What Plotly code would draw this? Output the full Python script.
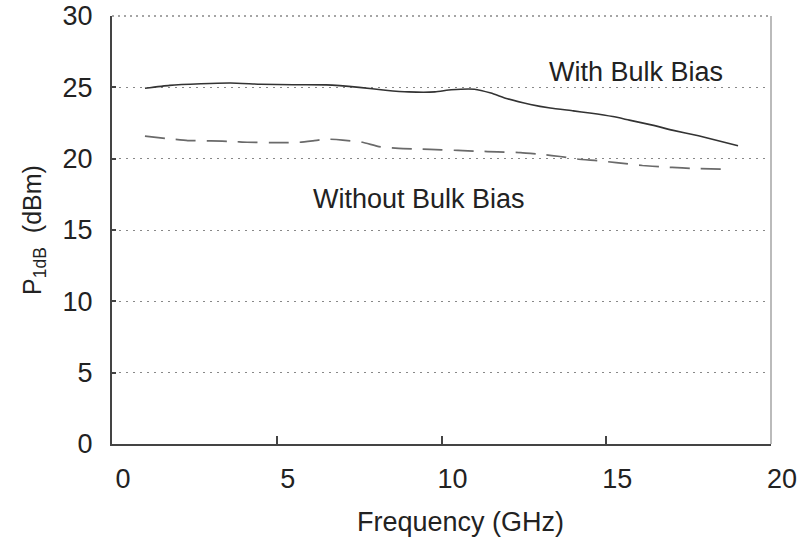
import plotly.graph_objects as go

# Data
freq_with = [1.0, 1.75, 2.7, 3.6, 4.5, 5.5, 6.5, 7.5, 8.3, 9.0, 9.8, 10.3, 11.0, 11.5,
             12.0, 12.7, 13.3, 14.0, 14.5, 15.2, 15.7, 16.4, 17.0, 17.8, 18.4, 19.0]
p1db_with = [24.93, 25.14, 25.25, 25.3, 25.22, 25.18, 25.17, 25.0, 24.8, 24.68, 24.68,
             24.83, 24.87, 24.6, 24.2, 23.8, 23.55, 23.35, 23.2, 22.95, 22.7, 22.35,
             22.0, 21.6, 21.25, 20.9]

freq_without = [1.0, 1.7, 2.3, 3.0, 3.7, 4.1, 5.0, 5.7, 6.1, 6.5, 7.0, 7.6, 8.1, 8.7,
                9.3, 10.0, 10.5, 11.1, 11.7, 12.4, 13.1, 13.6, 14.1, 14.8, 15.3, 16.1,
                16.7, 17.3, 17.8, 18.5]
p1db_without = [21.58, 21.4, 21.27, 21.25, 21.2, 21.15, 21.12, 21.15, 21.25, 21.37, 21.3,
                21.15, 20.85, 20.72, 20.68, 20.62, 20.58, 20.52, 20.48, 20.42, 20.28,
                20.15, 19.98, 19.85, 19.72, 19.52, 19.42, 19.35, 19.3, 19.27]

x_ticks = [0, 5, 10, 15, 20]
y_ticks = [0, 5, 10, 15, 20, 25, 30]

label_with = "With Bulk Bias"
label_without = "Without Bulk Bias"
x_title = "Frequency (GHz)"
y_title = "P<sub>1dB</sub>&nbsp;&nbsp;(dBm)"

FONT = "Liberation Sans, Arial, sans-serif"
TXT = "#222222"
FS = 27

fig = go.Figure()
fig.add_trace(go.Scatter(x=freq_with, y=p1db_with, mode="lines",
                         line=dict(color="#333333", width=1.6, shape="spline", smoothing=0.5),
                         showlegend=False, hoverinfo="skip"))
fig.add_trace(go.Scatter(x=freq_without, y=p1db_without, mode="lines",
                         line=dict(color="#6a6a6a", width=1.7, dash="20px,11px",
                                   shape="spline", smoothing=0.5),
                         showlegend=False, hoverinfo="skip"))

fig.add_annotation(x=15.9, y=26.1, text=label_with, showarrow=False,
                   font=dict(family=FONT, size=FS, color=TXT))
fig.add_annotation(x=9.32, y=17.17, text=label_without, showarrow=False,
                   font=dict(family=FONT, size=FS, color=TXT))
fig.add_annotation(x=0.529, y=-0.182, xref="paper", yref="paper", text=x_title,
                   showarrow=False, xanchor="center", yanchor="middle",
                   font=dict(family=FONT, size=FS, color=TXT))

# right frame line and dotted top frame line
fig.add_shape(type="line", xref="x domain", yref="y domain", x0=1, x1=1, y0=0, y1=1,
              line=dict(color="#bbbbbb", width=2))
fig.add_shape(type="line", xref="x domain", yref="y domain", x0=0, x1=1, y0=1, y1=1,
              line=dict(color="#888888", width=1.5, dash="2px,4px"))

fig.update_layout(
    width=798, height=540, autosize=False,
    margin=dict(l=112, r=27, t=16, b=96, autoexpand=False),
    paper_bgcolor="white", plot_bgcolor="white",
    font=dict(family=FONT, size=FS, color=TXT),
    xaxis=dict(range=[0, 20], tickvals=x_ticks, ticks="inside", ticklen=8, tickwidth=1.5,
               tickcolor="#444444", showline=True, linecolor="#444444", linewidth=2,
               showgrid=False, zeroline=False, ticklabelshift=11, ticklabelstandoff=10,
               ticklabeloverflow="allow", automargin=False,
               tickfont=dict(family=FONT, size=FS, color=TXT)),
    yaxis=dict(range=[0, 30], tickvals=y_ticks, ticks="inside", ticklen=4, tickwidth=1.5,
               tickcolor="#444444", showline=True, linecolor="#444444", linewidth=2,
               showgrid=True, gridcolor="#888888", gridwidth=1, griddash="2px,5px",
               zeroline=False, ticklabelstandoff=12, automargin=False,
               ticklabeloverflow="allow",
               tickfont=dict(family=FONT, size=FS, color=TXT),
               title=dict(text=y_title, standoff=14,
                          font=dict(family=FONT, size=25, color=TXT))),
)

fig.write_html("out.html")
